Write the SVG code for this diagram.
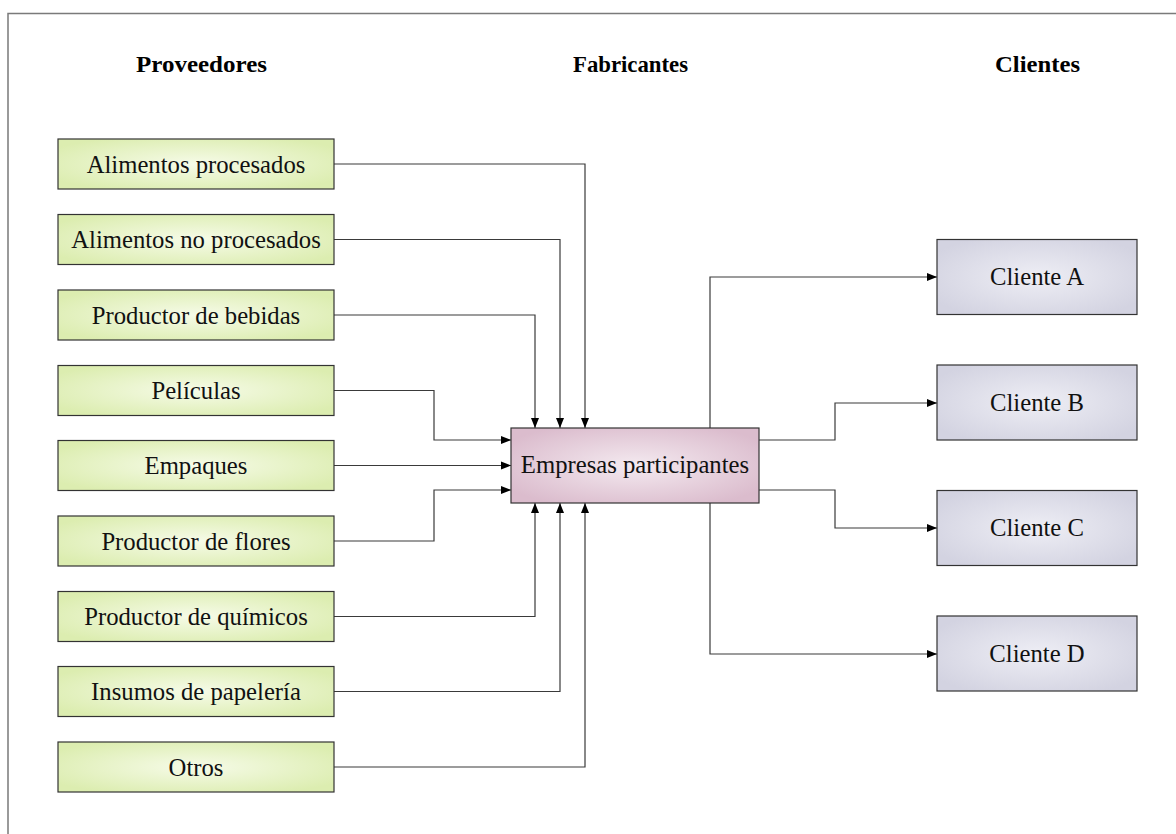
<svg xmlns="http://www.w3.org/2000/svg" width="1176" height="834" viewBox="0 0 1176 834" font-family="'Liberation Serif', 'DejaVu Serif', serif">
  <defs>
    <radialGradient id="gGreen" cx="50%" cy="50%" r="60%">
      <stop offset="0" stop-color="#f6fbe8"/>
      <stop offset="1" stop-color="#dcedb0"/>
    </radialGradient>
    <radialGradient id="gPink" cx="50%" cy="50%" r="60%">
      <stop offset="0" stop-color="#f4eaf0"/>
      <stop offset="1" stop-color="#dbbccd"/>
    </radialGradient>
    <radialGradient id="gLav" cx="50%" cy="50%" r="60%">
      <stop offset="0" stop-color="#eeeef5"/>
      <stop offset="1" stop-color="#d3d3e1"/>
    </radialGradient>
    <marker id="arr" viewBox="0 0 10 10" refX="10" refY="5" markerWidth="10" markerHeight="10" markerUnits="userSpaceOnUse" orient="auto">
      <path d="M0,1 L10,5 L0,9 Z" fill="#000"/>
    </marker>
  </defs>
  <style>
    .frame { fill: none; stroke: #7a7a7a; stroke-width: 1.5; }
    text { font-family: 'Liberation Serif', 'DejaVu Serif', serif; }
    .head { font-weight: bold; font-size: 24px; fill: #000; text-anchor: middle; }
    .lbl { font-size: 24.7px; fill: #111; text-anchor: middle; }
    .sup { fill: url(#gGreen); stroke: #333; stroke-width: 1.2; }
    .mfr { fill: url(#gPink); stroke: #333; stroke-width: 1.2; }
    .cli { fill: url(#gLav); stroke: #333; stroke-width: 1.2; }
    .conn path { fill: none; stroke: #3a3a3a; stroke-width: 1.2; marker-end: url(#arr); }
  </style>

  <rect width="1176" height="834" fill="#fff"/>
  <rect class="frame" x="8" y="13.5" width="1180" height="840"/>

  <g id="headers">
    <text class="head" x="201.5" y="71.5" textLength="131" lengthAdjust="spacingAndGlyphs">Proveedores</text>
    <text class="head" x="630.5" y="71.5" textLength="115" lengthAdjust="spacingAndGlyphs">Fabricantes</text>
    <text class="head" x="1037.5" y="71.5" textLength="85" lengthAdjust="spacingAndGlyphs">Clientes</text>
  </g>

  <!-- connectors -->
  <g id="connectors" class="conn">
    <path d="M334,164 H585 V428"/>
    <path d="M334,239.5 H560 V428"/>
    <path d="M334,315 H535 V428"/>
    <path d="M334,390.5 H434 V440 H511"/>
    <path d="M334,465.5 H511"/>
    <path d="M334,541 H434 V490 H511"/>
    <path d="M334,616.5 H535 V503"/>
    <path d="M334,691.5 H560 V503"/>
    <path d="M334,767 H585 V503"/>
    <path d="M710,428 V277 H937"/>
    <path d="M759,440 H835 V403 H937"/>
    <path d="M759,490 H835 V528 H937"/>
    <path d="M710,503 V654 H937"/>
  </g>

  <!-- suppliers -->
  <g id="sup-alimentos-procesados">
    <rect class="sup" x="58" y="139" width="276" height="50"/>
    <text class="lbl" x="196" y="172.5">Alimentos procesados</text>
  </g>
  <g id="sup-alimentos-no-procesados">
    <rect class="sup" x="58" y="214.5" width="276" height="50"/>
    <text class="lbl" x="196" y="248">Alimentos no procesados</text>
  </g>
  <g id="sup-bebidas">
    <rect class="sup" x="58" y="290" width="276" height="50"/>
    <text class="lbl" x="196" y="323.5">Productor de bebidas</text>
  </g>
  <g id="sup-peliculas">
    <rect class="sup" x="58" y="365.5" width="276" height="50"/>
    <text class="lbl" x="196" y="399">Películas</text>
  </g>
  <g id="sup-empaques">
    <rect class="sup" x="58" y="440.5" width="276" height="50"/>
    <text class="lbl" x="196" y="474">Empaques</text>
  </g>
  <g id="sup-flores">
    <rect class="sup" x="58" y="516" width="276" height="50"/>
    <text class="lbl" x="196" y="549.5">Productor de flores</text>
  </g>
  <g id="sup-quimicos">
    <rect class="sup" x="58" y="591.5" width="276" height="50"/>
    <text class="lbl" x="196" y="625">Productor de químicos</text>
  </g>
  <g id="sup-papeleria">
    <rect class="sup" x="58" y="666.5" width="276" height="50"/>
    <text class="lbl" x="196" y="700">Insumos de papelería</text>
  </g>
  <g id="sup-otros">
    <rect class="sup" x="58" y="742" width="276" height="50"/>
    <text class="lbl" x="196" y="775.5">Otros</text>
  </g>

  <!-- manufacturer -->
  <g id="mfr-empresas">
    <rect class="mfr" x="511" y="428" width="248" height="75"/>
    <text class="lbl" x="635" y="473">Empresas participantes</text>
  </g>

  <!-- customers -->
  <g id="cli-a">
    <rect class="cli" x="937" y="239.5" width="200" height="75"/>
    <text class="lbl" x="1037" y="285">Cliente A</text>
  </g>
  <g id="cli-b">
    <rect class="cli" x="937" y="365" width="200" height="75"/>
    <text class="lbl" x="1037" y="410.5">Cliente B</text>
  </g>
  <g id="cli-c">
    <rect class="cli" x="937" y="490.5" width="200" height="75"/>
    <text class="lbl" x="1037" y="536">Cliente C</text>
  </g>
  <g id="cli-d">
    <rect class="cli" x="937" y="616" width="200" height="75"/>
    <text class="lbl" x="1037" y="661.5">Cliente D</text>
  </g>
</svg>
